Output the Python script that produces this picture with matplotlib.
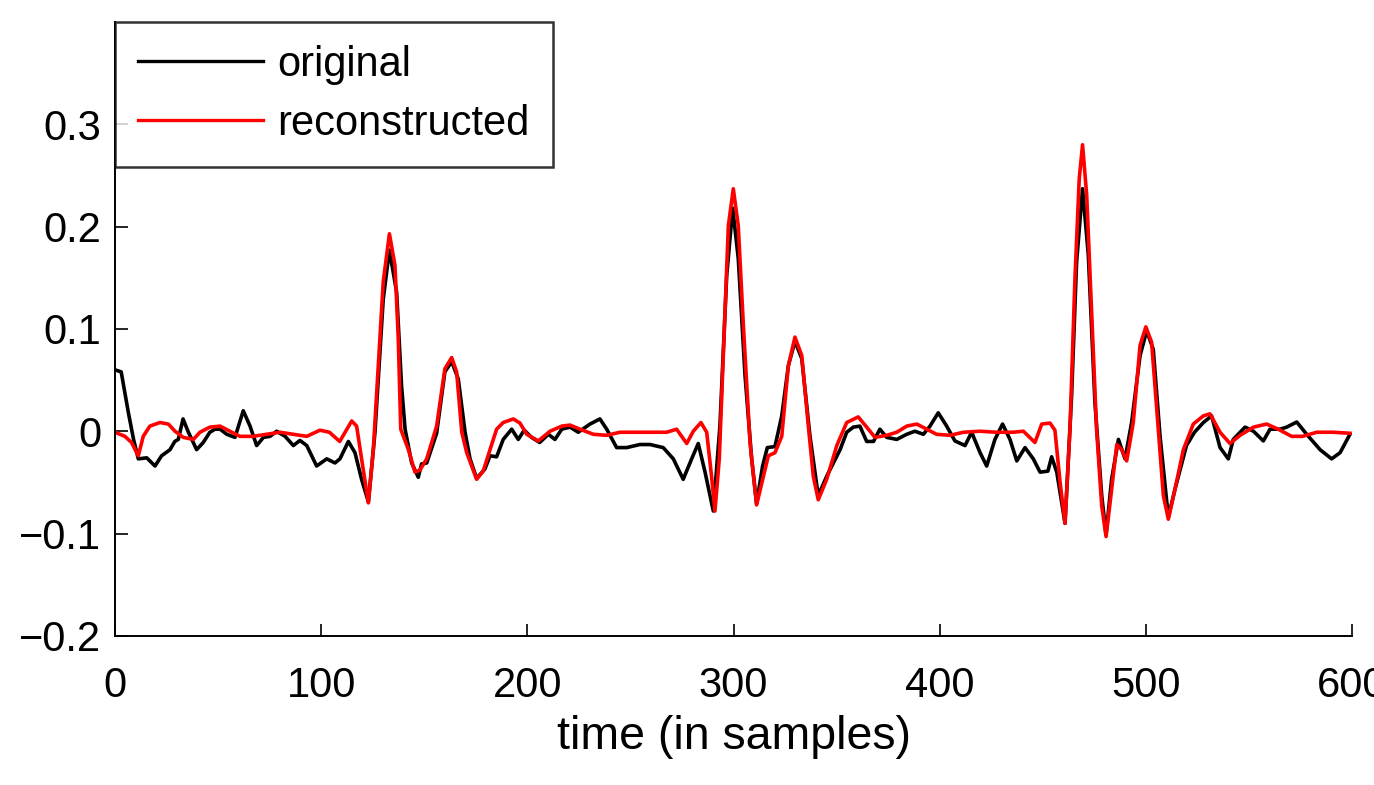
import numpy as np
import matplotlib
matplotlib.use("Agg")
import matplotlib.pyplot as plt

plt.rcParams['font.family'] = ['Liberation Sans', 'DejaVu Sans']

# original signal (sample index, value)
t_orig = [0, 3, 6.5, 9, 11.3, 15.4, 19.4, 22.6, 26.7, 29, 30.7, 33, 35.6, 39.6, 42.8, 46, 48.5, 51,
          54.2, 58.2, 62.2, 65.5, 68.7, 72, 75.2, 78.4, 82.5, 86.5, 89.7, 93, 97.8, 102.7, 106.7,
          109.1, 113.2, 116.4, 119.6, 122.9, 126.1, 130.1, 133.1, 136.6, 139, 140.7, 143.9, 147.1,
          148.7, 151.2, 156, 160, 163.3, 166.5, 169.8, 172.2, 175.4, 179.4, 181.9, 185.1, 188.3,
          192.4, 195.6, 198.5, 202, 206, 210.2, 213.4, 216.7, 220.7, 224.7, 230.4, 235.2, 238.5,
          243.3, 248.2, 254.6, 259.5, 265.9, 270.8, 275.6, 279.7, 282.9, 286.2, 290.2, 293.4,
          296.7, 299.6, 302.3, 305.6, 308.8, 311.2, 314.1, 316.4, 320.1, 323.4, 326.6, 329.8,
          333.1, 337.1, 341.1, 345.2, 351.7, 354.9, 358.1, 361.3, 364.6, 367.9, 371, 374.3, 379.2,
          384, 388, 392.1, 395.3, 399.3, 403.4, 407.4, 412.3, 415.5, 419.6, 422.8, 426.8, 430.5,
          434.1, 437.4, 441.4, 445.4, 448.7, 452.5, 454.3, 456.8, 460.8, 464, 466.4, 469.3, 472.1,
          475.3, 478.6, 480.7, 483.4, 486.7, 489.9, 493.1, 497.2, 500.4, 503.6, 506.9, 510.9,
          514.1, 519.7, 523.6, 527.9, 531.9, 536, 540, 542.4, 548.1, 552.2, 557, 560.2, 565.1,
          568.3, 573.2, 578, 584.5, 590.1, 594.2, 599]
v_orig = [0.060, 0.058, 0.018, -0.008, -0.027, -0.026, -0.034, -0.024, -0.018, -0.010, -0.008, 0.012,
          -0.001, -0.018, -0.011, -0.001, 0.002, 0.002, -0.003, -0.006, 0.020, 0.005, -0.014, -0.006,
          -0.005, 0.0, -0.005, -0.014, -0.009, -0.014, -0.034, -0.027, -0.031, -0.027, -0.010,
          -0.021, -0.047, -0.069, -0.001, 0.129, 0.177, 0.136, 0.044, 0.002, -0.031, -0.045,
          -0.032, -0.031, -0.002, 0.058, 0.068, 0.051, -0.001, -0.027, -0.046, -0.037, -0.024,
          -0.025, -0.008, 0.002, -0.008, 0.001, -0.006, -0.011, -0.003, -0.008, 0.002, 0.004,
          -0.001, 0.007, 0.012, 0.002, -0.016, -0.016, -0.013, -0.013, -0.016, -0.027, -0.047,
          -0.027, -0.012, -0.040, -0.078, 0.005, 0.152, 0.218, 0.169, 0.054, -0.027, -0.071,
          -0.034, -0.016, -0.015, 0.015, 0.064, 0.088, 0.071, -0.005, -0.063, -0.044, -0.018,
          -0.001, 0.004, 0.005, -0.010, -0.010, 0.002, -0.006, -0.008, -0.003, 0.0, -0.003, 0.005,
          0.018, 0.005, -0.0095, -0.014, -0.001, -0.021, -0.034, -0.008, 0.007, -0.008, -0.029,
          -0.016, -0.027, -0.040, -0.039, -0.025, -0.040, -0.090, 0.035, 0.165, 0.237, 0.172,
          0.028, -0.063, -0.101, -0.047, -0.008, -0.027, 0.0085, 0.074, 0.098, 0.080, -0.005,
          -0.084, -0.057, -0.014, -0.001, 0.0085, 0.015, -0.016, -0.027, -0.008, 0.004, 0.0,
          -0.0095, 0.002, 0.002, 0.004, 0.009, -0.003, -0.018, -0.027, -0.021, -0.003]

# reconstructed signal
t_rec = [0, 4.8, 8, 11.3, 13.7, 16.9, 21.8, 25.9, 29.1, 33.1, 38, 41.2, 46, 51, 55.7, 60.6, 67, 73.6,
         80, 86.5, 93, 99.4, 104, 109, 114.8, 117.2, 119.6, 122.9, 125.3, 127.7, 130.1, 133.1,
         135.8, 137.4, 138.6, 142.3, 145.5, 147.9, 151.2, 156, 160, 163.3, 165.7, 168.2, 170.6,
         175.4, 178.6, 181.9, 185.1, 188.3, 193.2, 196.4, 199.7, 205.3, 211, 216.7, 220.7, 225.5,
         232, 238.5, 244.9, 253, 261, 267.6, 272.4, 277.3, 280.5, 284.2, 287, 289.4, 291, 293.1,
         295, 297.5, 299.9, 302.3, 304.8, 308, 311.2, 314.5, 316.9, 320.1, 323.4, 326.6, 329.8,
         333.1, 336.3, 338.7, 341.1, 345.2, 350.1, 354.9, 360.5, 364.6, 368.6, 374.3, 379.2, 384,
         388.9, 393.7, 398.5, 405, 411.5, 419.6, 427.6, 435.7, 440.6, 446.2, 449.5, 453.5, 455.9,
         458.4, 460.8, 463.2, 465.6, 467.7, 469.3, 471.3, 473.7, 476.1, 478.6, 480.7, 483.4,
         485.9, 488.3, 490.7, 493.9, 497.2, 500, 502.8, 506, 508.5, 510.9, 514.1, 518.2, 523,
         527.9, 531.1, 536, 540.8, 545.7, 552.2, 558.6, 564.2, 570.7, 576, 582.9, 591, 599]
v_rec = [-0.001, -0.005, -0.011, -0.024, -0.005, 0.005, 0.0085, 0.007, 0.0, -0.006, -0.008, -0.001,
         0.004, 0.005, 0.0, -0.005, -0.005, -0.003, -0.001, -0.003, -0.005, 0.001, -0.001, -0.010,
         0.010, 0.005, -0.027, -0.070, -0.018, 0.064, 0.146, 0.193, 0.162, 0.090, 0.002, -0.018,
         -0.040, -0.038, -0.027, 0.005, 0.061, 0.072, 0.058, -0.001, -0.021, -0.047, -0.039,
         -0.018, 0.002, 0.0085, 0.012, 0.008, -0.003, -0.0095, 0.0, 0.005, 0.006, 0.002, -0.003,
         -0.004, -0.001, -0.001, -0.001, -0.001, 0.002, -0.012, 0.0, 0.0085, -0.001, -0.045,
         -0.078, -0.027, 0.071, 0.201, 0.237, 0.201, 0.103, -0.011, -0.072, -0.044, -0.024,
         -0.021, -0.005, 0.064, 0.092, 0.074, 0.005, -0.044, -0.067, -0.047, -0.014, 0.0085,
         0.014, 0.004, -0.006, -0.004, -0.001, 0.005, 0.007, 0.002, -0.003, -0.004, -0.001, 0.0,
         -0.001, -0.001, 0.0, -0.011, 0.007, 0.008, 0.001, -0.050, -0.090, 0.002, 0.149, 0.247,
         0.280, 0.231, 0.116, 0.002, -0.073, -0.103, -0.057, -0.013, -0.018, -0.029, 0.0085,
         0.084, 0.102, 0.087, 0.002, -0.063, -0.086, -0.057, -0.018, 0.007, 0.015, 0.017, -0.001,
         -0.012, -0.004, 0.004, 0.007, 0.002, -0.005, -0.005, -0.001, -0.001, -0.002]

x_ticks = [0, 100, 200, 300, 400, 500, 600]
y_ticks = [-0.2, -0.1, 0, 0.1, 0.2, 0.3]
y_labels = ['\u22120.2', '\u22120.1', '0', '0.1', '0.2', '0.3']

fig = plt.figure(figsize=(13.74, 7.85), dpi=100)
ax = fig.add_axes([0.0837, 0.19, 0.9003, 0.782])

ax.plot(t_orig, v_orig, color='black', lw=2.6, label='original')
ax.plot(t_rec, v_rec, color='red', lw=2.6, label='reconstructed')

ax.set_xlim(0, 600)
ax.set_ylim(-0.2, 0.4)
ax.set_xticks(x_ticks)
ax.set_xticklabels([str(x) for x in x_ticks])
ax.set_yticks(y_ticks)
ax.set_yticklabels(y_labels)
ax.tick_params(direction='in', length=9, width=1.2, labelsize=30)
ax.tick_params(axis='x', pad=22)
ax.tick_params(axis='y', pad=10)
ax.spines['top'].set_visible(False)
ax.spines['right'].set_visible(False)
for s in ['left', 'bottom']:
    ax.spines[s].set_linewidth(1.4)

ax.set_xlabel('time (in samples)', fontsize=33.5, labelpad=6)

leg = ax.legend(loc='upper left', fontsize=30, frameon=True, fancybox=False,
                borderaxespad=0, handlelength=3.0, handletextpad=0.35,
                labelspacing=0.45, borderpad=0.55)
leg.get_frame().set_edgecolor('black')
leg.get_frame().set_linewidth(1.8)
for line in leg.get_lines():
    line.set_linewidth(2.4)

fig.savefig('out.png', dpi=100)
